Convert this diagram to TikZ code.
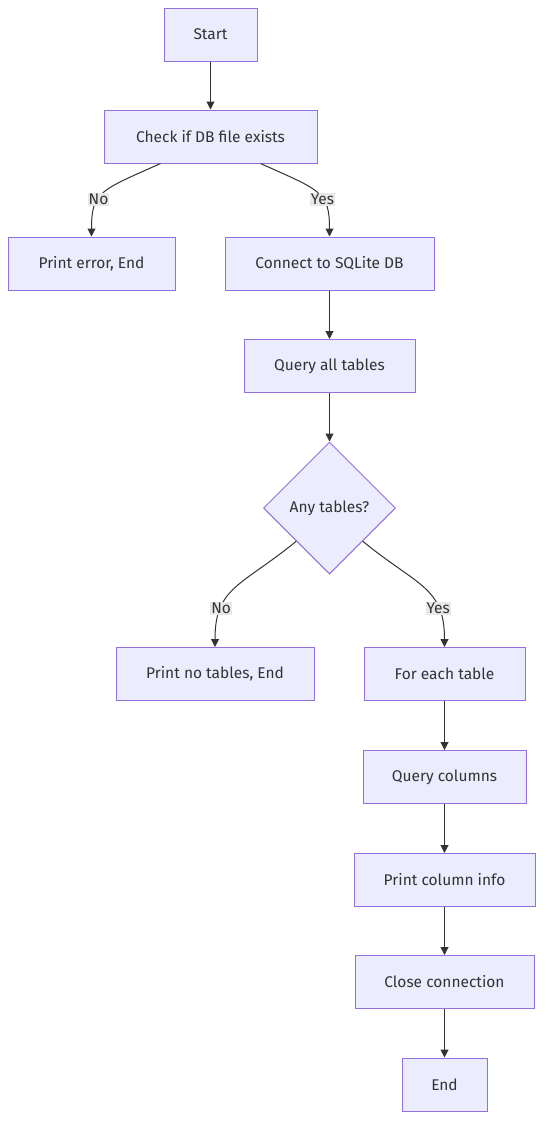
\documentclass[tikz,border=0pt]{standalone}
\usepackage{fontspec}
\setmainfont{Fira Sans}
\usetikzlibrary{arrows.meta,calc,shapes.geometric,positioning}
\definecolor{boxfill}{HTML}{ECECFF}
\definecolor{boxline}{HTML}{9370DB}
\definecolor{edgecol}{HTML}{333333}
\definecolor{lblfill}{HTML}{E8E8E8}

\begin{document}
\begin{tikzpicture}[x=1pt,y=-1pt,
  box/.style={draw=boxline,fill=boxfill,line width=1pt,minimum height=53pt,inner sep=0pt,text=edgecol,font=\fontsize{15.5}{18}\selectfont},
  dec/.style={box,diamond,minimum width=132pt,minimum height=132pt},
  flow/.style={draw=edgecol,line width=1pt,-{Triangle[length=8pt,width=8pt]}},
  lbl/.style={fill=lblfill,text=edgecol,inner sep=1pt,font=\fontsize{15.5}{18}\selectfont}]
\useasboundingbox (0,0) rectangle (551,1135);
\node[box,minimum width=93pt] (start) at (210.5,34.5) {Start};
\node[box,minimum width=213pt] (check) at (210.5,136.5) {Check if DB file exists};
\node[box,minimum width=167pt] (perr) at (91.5,263.5) {Print error, End};
\node[box,minimum width=209pt] (connect) at (329.5,263.5) {Connect to SQLite DB};
\node[box,minimum width=171pt] (qall) at (329.5,366) {Query all tables};
\node[dec] (any) at (329.5,508) {Any tables?};
\node[box,minimum width=198pt] (pnone) at (215,674) {Print no tables, End};
\node[box,minimum width=161pt] (each) at (444.5,674) {For each table};
\node[box,minimum width=163pt] (qcol) at (444.5,777) {Query columns};
\node[box,minimum width=181pt] (pcol) at (444.5,880) {Print column info};
\node[box,minimum width=179pt] (close) at (444.5,982) {Close connection};
\node[box,minimum width=85pt] (end) at (444.5,1084.5) {End};
% straight connectors
\draw[flow] (start) -- (check);
\draw[flow] (connect) -- (qall);
\draw[flow] (qall) -- (any);
\draw[flow] (each) -- (qcol);
\draw[flow] (qcol) -- (pcol);
\draw[flow] (pcol) -- (close);
\draw[flow] (close) -- (end);
% branches
\draw[flow] ($(check.south)+(-50,0)$) .. controls +(-60,27) and +(0,-45) .. node[lbl,pos=0.6]{No} (perr.north);
\draw[flow] ($(check.south)+(50,0)$) .. controls +(60,27) and +(0,-45) .. node[lbl,pos=0.6]{Yes} (connect.north);
\draw[flow] (any.south west) .. controls +(-55,45) and +(0,-60) .. node[lbl,pos=0.72]{No} (pnone.north);
\draw[flow] (any.south east) .. controls +(55,45) and +(0,-60) .. node[lbl,pos=0.72]{Yes} (each.north);
\end{tikzpicture}
\end{document}
